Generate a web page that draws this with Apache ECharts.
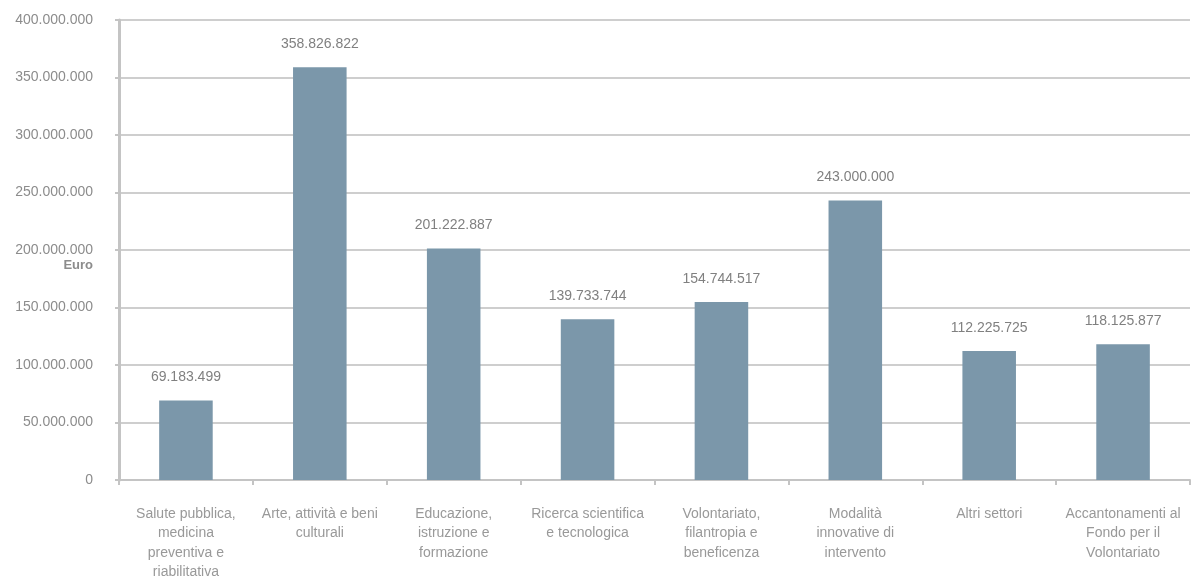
<!DOCTYPE html>
<html><head><meta charset="utf-8">
<script src="https://cdn.jsdelivr.net/npm/echarts@6/dist/echarts.min.js"></script>
<style>html,body{margin:0;padding:0;background:#fff}#c{width:1192px;height:579px}</style>
</head><body><div id="c"></div>
<script>
const categories = [
  "Salute pubblica,\nmedicina\npreventiva e\nriabilitativa",
  "Arte, attività e beni\nculturali",
  "Educazione,\nistruzione e\nformazione",
  "Ricerca scientifica\ne tecnologica",
  "Volontariato,\nfilantropia e\nbeneficenza",
  "Modalità\ninnovative di\nintervento",
  "Altri settori",
  "Accantonamenti al\nFondo per il\nVolontariato"
];
const values = [69183499, 358826822, 201222887, 139733744, 154744517, 243000000, 112225725, 118125877];
const yUnit = "Euro";

function fmt(v){ return String(Math.round(v)).replace(/\B(?=(\d{3})+(?!\d))/g, "."); }

const chart = echarts.init(document.getElementById('c'), null, {renderer:'canvas'});
chart.setOption({
  animation:false,
  grid:{left:119, right:2, top:20, bottom:99, containLabel:false, outerBoundsMode:'none'},
  xAxis:{
    type:'category', data:categories,
    axisLine:{lineStyle:{color:'#c4c4c4', width:2}},
    axisTick:{show:true, alignWithLabel:false, length:5, lineStyle:{color:'#c4c4c4', width:2}},
    axisLabel:{color:'#999', fontFamily:'Liberation Sans', fontSize:14, lineHeight:19.5, margin:24, interval:0}
  },
  yAxis:{
    type:'value', min:0, max:400000000, interval:50000000,
    axisLine:{show:true, lineStyle:{color:'#c4c4c4', width:3}},
    axisTick:{show:true, length:4, lineStyle:{color:'#c4c4c4', width:2}},
    splitLine:{lineStyle:{color:'#cecece', width:2}},
    axisLabel:{color:'#8c8c8c', fontFamily:'Liberation Sans', fontSize:14, margin:26, formatter:fmt}
  },
  graphic:[{type:'text', right:1192-93, top:259, style:{text:yUnit, fill:'#8c8c8c', font:'bold 13px "Liberation Sans"', textAlign:'right'}}],
  series:[{
    type:'bar', data:values, barWidth:'40%',
    itemStyle:{color:'#7b97aa'},
    label:{show:true, position:'top', distance:16, color:'#808080', fontFamily:'Liberation Sans', fontSize:14, formatter:p=>fmt(p.value)}
  }]
});
</script></body></html>
